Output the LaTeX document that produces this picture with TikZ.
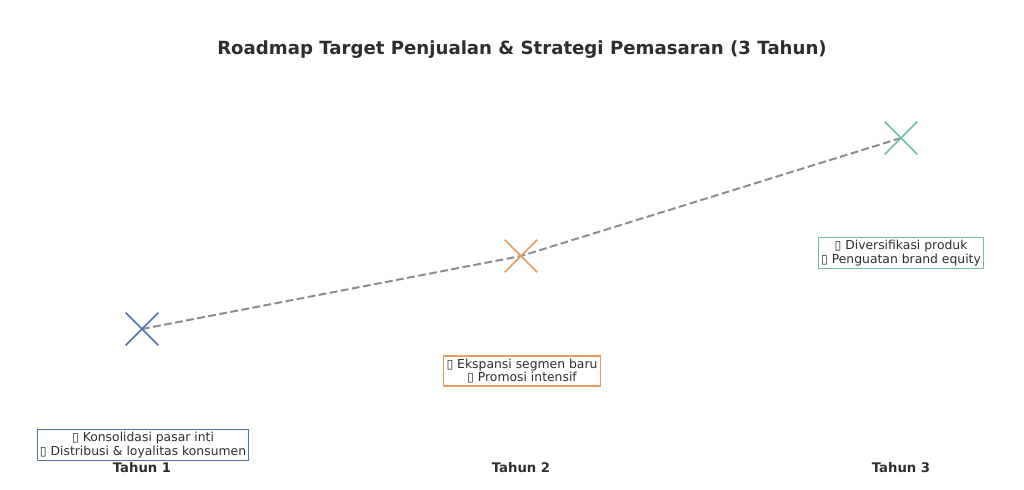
\documentclass[tikz,border=0pt]{standalone}
\usepackage{fontspec}
\setmainfont{DejaVu Sans}
\definecolor{yearone}{HTML}{4C72B0}
\definecolor{yeartwo}{HTML}{EE9A5A}
\definecolor{yearthree}{HTML}{6FBF9E}
\definecolor{trendgray}{HTML}{8C8C8C}
\definecolor{inkgray}{HTML}{2E2E2E}
\newcommand{\tofu}{\symbol{"25AF}}
\begin{document}
\begin{tikzpicture}[x=0.025cm,y=-0.025cm,
crossmark/.style={draw=none, minimum size=32*0.025cm, inner sep=0pt},
notebox/.style={draw=#1, fill=white, line width=0.8pt, align=center, inner sep=2pt, text=inkgray, font=\fontsize{8.8}{9.6}\selectfont},
yearlabel/.style={text=inkgray, font=\bfseries\fontsize{9.4}{10}\selectfont},
trend/.style={draw=trendgray, line width=1.4pt, dash pattern=on 5.5pt off 2.5pt}]
    \useasboundingbox (0,0) rectangle (1024,490);
    \node [text=inkgray, font=\bfseries\fontsize{12.9}{14}\selectfont] (title) at (522,50) {Roadmap Target Penjualan \& Strategi Pemasaran (3 Tahun)};
    % target points
    \node [crossmark] (t1) at (142,329) {};
    \node [crossmark] (t2) at (521,256) {};
    \node [crossmark] (t3) at (901,138) {};
    \draw [trend] (t1.center) -- (t2.center) -- (t3.center);
    \draw [yearone, line width=1.1pt] (t1.north west) -- (t1.south east) (t1.south west) -- (t1.north east);
    \draw [yeartwo, line width=1.1pt] (t2.north west) -- (t2.south east) (t2.south west) -- (t2.north east);
    \draw [yearthree, line width=1.1pt] (t3.north west) -- (t3.south east) (t3.south west) -- (t3.north east);
    % strategy notes
    \node [notebox=yearone] (n1) at (143,445) {\tofu{} Konsolidasi pasar inti\\\tofu{} Distribusi \& loyalitas konsumen};
    \node [notebox=yeartwo] (n2) at (522,371) {\tofu{} Ekspansi segmen baru\\\tofu{} Promosi intensif};
    \node [notebox=yearthree] (n3) at (901,253) {\tofu{} Diversifikasi produk\\\tofu{} Penguatan brand equity};
    % axis labels
    \node [yearlabel] (y1) at (142,468) {Tahun 1};
    \node [yearlabel] (y2) at (521,468) {Tahun 2};
    \node [yearlabel] (y3) at (901,468) {Tahun 3};
\end{tikzpicture}
\end{document}
